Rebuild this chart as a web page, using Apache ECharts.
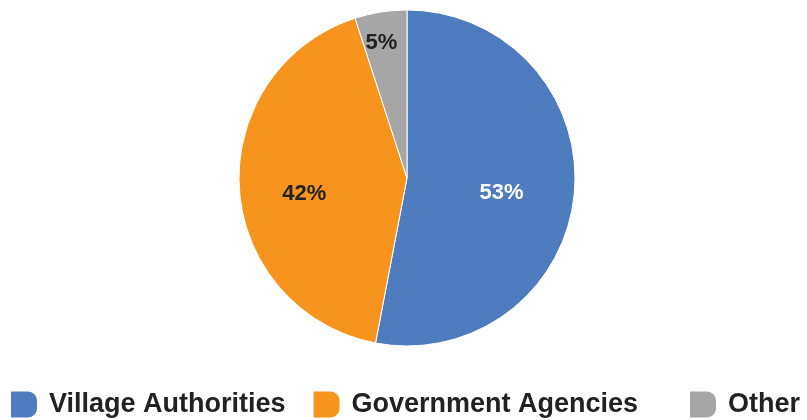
<!DOCTYPE html>
<html>
<head>
<meta charset="utf-8">
<script src="https://cdn.jsdelivr.net/npm/echarts@6/dist/echarts.min.js"></script>
<style>
  html, body { margin: 0; padding: 0; background: #ffffff; }
  #chart { width: 807px; height: 420px; }
</style>
</head>
<body>
<div id="chart"></div>
<script>
// Share of responsibility by actor (percent)
const categories = ['Village Authorities', 'Government Agencies', 'Other'];
const shares = [53, 42, 5];

const sliceColors = ['#4F7BBF', '#F7941D', '#A6A6A6'];
const labelColors = ['#ffffff', '#222222', '#222222'];
// nudges for the in-slice percentage labels
const labelOffsets = [[8, 7], [-16, 10], [-12, -49]];

// legend marker: square with a rounded right side
const legendIcon = 'path://M0,0H17A9,9 0 0 1 26,9V17A9,9 0 0 1 17,26H0Z';

// shared look of the legend rows; the last entry sits in its own block further right
function legendBlock(names, left) {
  return {
    left: left,
    top: 391,
    icon: legendIcon,
    itemWidth: 26,
    itemHeight: 26,
    itemGap: 28,
    padding: 0,
    itemStyle: { borderWidth: 0 },
    textStyle: {
      fontFamily: 'Liberation Sans',
      fontWeight: 'bold',
      fontSize: 27,
      color: '#222222',
      padding: [0, 0, 0, 7]
    },
    data: names
  };
}

const chart = echarts.init(document.getElementById('chart'), null, { renderer: 'canvas' });

chart.setOption({
  animation: false,
  color: sliceColors,
  legend: [
    legendBlock(categories.slice(0, 2), 11),
    legendBlock(categories.slice(2), 690)
  ],
  series: [{
    type: 'pie',
    center: [407, 178],
    radius: 168,
    startAngle: 90,
    clockwise: true,
    percentPrecision: 0,
    itemStyle: { borderColor: '#ffffff', borderWidth: 1 },
    label: {
      position: 'inside',
      formatter: '{d}%',
      fontFamily: 'Liberation Sans',
      fontWeight: 'bold',
      fontSize: 22
    },
    labelLine: { show: false },
    emphasis: { disabled: true },
    data: categories.map((name, i) => ({
      name: name,
      value: shares[i],
      label: { color: labelColors[i], offset: labelOffsets[i] }
    }))
  }]
});
</script>
</body>
</html>
